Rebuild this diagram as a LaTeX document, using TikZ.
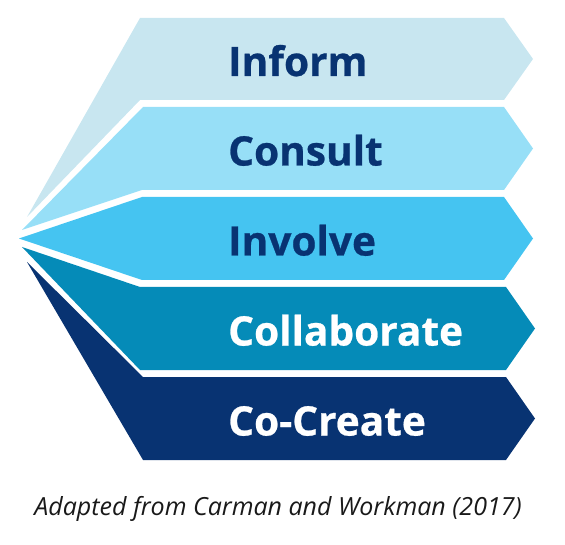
\documentclass[tikz,border=0pt]{standalone}
\usepackage{fontspec}
\setmainfont{Open Sans}
\newfontfamily\heavy{Open Sans}[BoldFeatures={FakeBold=0.6}]
\definecolor{informc}{HTML}{C8E6F0}
\definecolor{consultc}{HTML}{97DFF7}
\definecolor{involvec}{HTML}{45C4F1}
\definecolor{collabc}{HTML}{058BB8}
\definecolor{cocreatec}{HTML}{083372}
\begin{document}
\begin{tikzpicture}[x=1pt, y=-1pt,
  level/.style={anchor=base west, inner sep=0pt, font=\fontsize{40.6}{48}\heavy\bfseries},
  dark/.style={level, text=cocreatec},
  light/.style={level, text=white}]
\useasboundingbox (0, 0) rectangle (565, 545);
\fill [informc] (27, 217) -- (140, 18) -- (504, 18) -- (533, 59) -- (504, 100) -- (140, 100) -- cycle;
\fill [consultc] (22, 230) -- (143, 107) -- (504, 107) -- (533, 148.5) -- (504, 190) -- (142, 190) -- cycle;
\fill [involvec] (19, 238.5) -- (142, 197) -- (504, 197) -- (533, 238.5) -- (504, 280) -- (142, 280) -- cycle;
\fill [collabc] (22, 247) -- (140, 287) -- (506, 287) -- (535, 328.5) -- (506, 370) -- (140, 370) -- cycle;
\fill [cocreatec] (27, 262) -- (143, 377) -- (506, 377) -- (535, 418.5) -- (506, 460) -- (143, 460) -- cycle;
\path (228, 76) node[dark] (inform) {Inform};
\path (228, 165.5) node[dark] (consult) {Consult};
\path (228, 255.5) node[dark] (involve) {Involve};
\path (228, 345.5) node[light] (collab) {Collaborate};
\path (228, 435.5) node[light] (cocreate) {Co-Create};
\path (278, 515) node[anchor=base, inner sep=0pt, text=black!90, font=\fontsize{25}{30}\selectfont\itshape] (source) {Adapted from Carman and Workman (2017)};
\end{tikzpicture}
\end{document}
